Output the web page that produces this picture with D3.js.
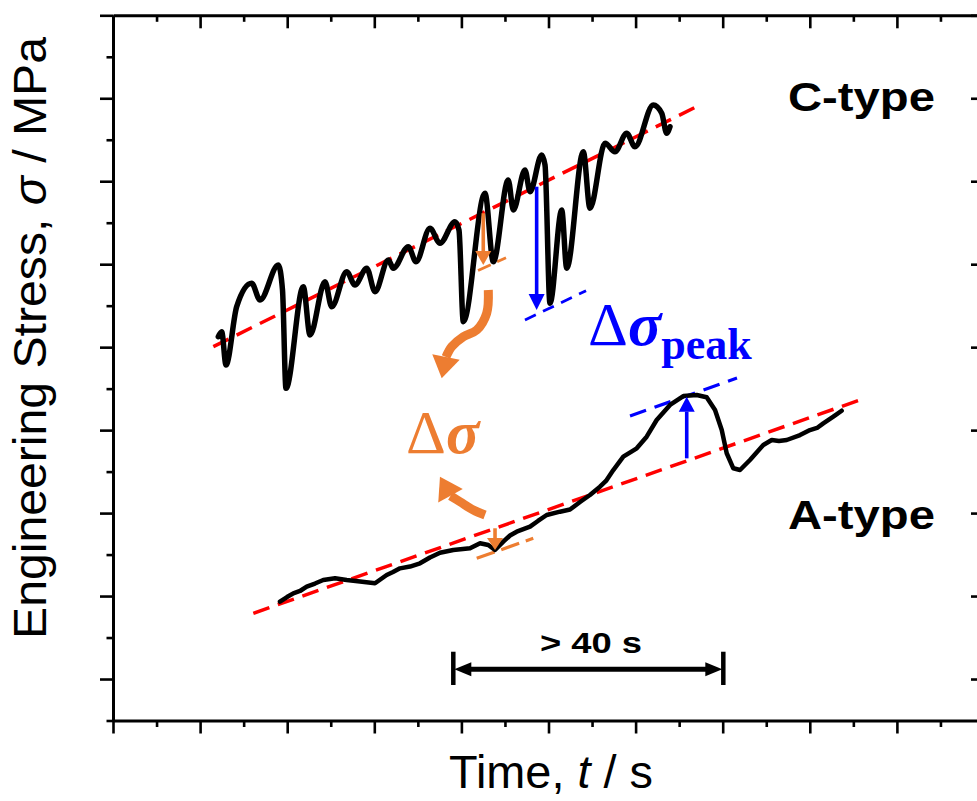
<!DOCTYPE html>
<html>
<head>
<meta charset="utf-8">
<script src="https://cdn.jsdelivr.net/npm/d3@7"></script>
<style>
	body { margin: 0; background: #fff; }
	text { font-family: "Liberation Sans", Arial, sans-serif; }
	.serif { font-family: "Liberation Serif", "Times New Roman", serif; }
</style>
</head>
<body>
<div id="chart"></div>
<script>
// C-type serrations (t / s, sigma / MPa)
var cTime   = [12.09, 12.48, 12.97, 14.20, 15.92, 16.88, 18.98, 19.46, 19.86, 21.85, 22.62, 24.34, 25.11, 26.83, 27.78, 29.13,
	30.08, 31.61, 32.18, 33.90, 34.79, 36.39, 37.54, 39.26, 39.72, 40.22, 42.71, 43.66, 45.38, 45.96, 47.30, 47.88,
	49.22, 49.60, 50.17, 51.52, 52.09, 54.00, 54.76, 56.49, 57.63, 58.98, 59.93, 62.03, 63.00, 63.57, 63.95];
var cStress = [41.26, 41.86, 37.85, 44.88, 47.70, 45.68, 49.90, 46.89, 35.04, 47.29, 41.47, 47.89, 44.88, 49.10, 47.49, 49.51,
	46.69, 50.51, 49.51, 52.11, 50.30, 54.33, 52.52, 55.12, 54.12, 43.07, 58.55, 50.30, 60.15, 56.53, 61.35, 58.74,
	63.16, 61.96, 45.29, 56.53, 49.51, 63.56, 56.74, 64.57, 63.56, 65.78, 64.16, 69.19, 68.19, 65.78, 66.57];

// A-type serrations
var aTime   = [19.17, 19.98, 20.70, 21.47, 22.24, 23.19, 24.14, 25.49, 26.83, 28.36, 30.08, 31.42, 32.15, 32.95, 34.10, 35.25,
	36.39, 37.54, 39.07, 40.99, 42.14, 43.09, 43.86, 44.81, 45.58, 46.35, 47.88, 48.79, 49.79, 51.32, 52.47, 53.62,
	54.76, 55.91, 56.60, 57.44, 58.59, 60.13, 61.27, 62.42, 63.95, 65.48, 67.02, 68.16, 69.12, 69.89, 70.46, 71.22,
	71.99, 73.13, 74.66, 75.63, 76.46, 77.35, 78.88, 80.02, 80.83, 81.55, 82.70, 83.66];
var aStress = [9.32, 9.88, 10.33, 10.61, 11.13, 11.51, 11.93, 12.14, 11.93, 11.75, 11.54, 12.54, 12.90, 13.34, 13.56, 13.95,
	14.65, 15.22, 15.55, 15.75, 16.36, 16.15, 15.55, 16.55, 17.30, 17.76, 18.36, 19.05, 19.77, 20.17, 20.43, 21.34,
	22.18, 23.18, 23.87, 25.19, 26.80, 27.81, 29.21, 31.22, 33.03, 34.11, 34.23, 33.96, 32.43, 30.01, 27.21, 25.40,
	25.19, 26.40, 28.21, 28.81, 28.69, 28.81, 29.41, 30.01, 30.26, 30.82, 31.62, 32.34];

// fitted trend lines (red) and peak lines (blue), [t0, t1] / [s0, s1]
var cFitTime  = [11.52, 67.39], cFitStress  = [40.06, 69.19];
var aFitTime  = [16.11, 85.96], aFitStress  = [7.92, 33.71];
var cPeakTime = [47.30, 54.31], cPeakStress = [43.27, 46.81];
var aPeakTime = [59.36, 71.64], aPeakStress = [31.70, 36.28];
var cDropTime = [41.91, 45.12], cDropStress = [49.24, 50.78];
var aDropTime = [41.76, 48.25], aDropStress = [14.55, 16.96];

// straight arrows: t, from, to
var cPeakArrow = [48.64, 59.34, 44.48];
var aPeakArrow = [65.87, 26.60, 34.03];
var cDropArrow = [42.51, 56.14, 49.90];
var aDropArrow = [43.86, 18.17, 15.55];

// curved arrows towards the delta-sigma label
var downArrowTime   = [43.09, 42.90, 41.76, 40.22, 38.89, 38.23, 37.74];
var downArrowStress = [46.89, 44.08, 42.07, 41.26, 40.06, 38.81, 36.25];
var upArrowTime     = [42.71, 41.37, 39.84, 38.75, 37.54];
var upArrowStress   = [19.77, 20.37, 21.37, 22.08, 24.39];

// time span marker
var spanTime = [39.07, 70.07], spanStress = 1.17, spanBar = [3.29, -0.72];

var xMajorTicks = [0, 10, 20, 30, 40, 50, 60, 70, 80, 90, 100];
var xMinorTicks = [5, 15, 25, 35, 45, 55, 65, 75, 85, 95];
var yMajorTicks = [0, 10, 20, 30, 40, 50, 60, 70, 80];
var yMinorTicks = [-5, 5, 15, 25, 35, 45, 55, 65, 75];

var colors = { red: "#ff0000", blue: "#0000ff", orange: "#ed7d31" };

var width = 977, height = 801;
var x = d3.scaleLinear().domain([0, 100]).range([113, 984]);
var y = d3.scaleLinear().domain([-5, 80]).range([720.5, 15.3]);

var svg = d3.select("#chart").append("svg")
	.attr("width", width)
	.attr("height", height);

// ---- frame and ticks
function frameAxis( axisFn, scale, major, minor, transform, sign ){
	var g = svg.append("g").attr("transform", transform);
	g.call( axisFn(scale).tickValues(major).tickSize(13 * sign).tickSizeOuter(0).tickFormat("") );
	g.append("g").call( axisFn(scale).tickValues(minor).tickSize(6.5 * sign).tickSizeOuter(0).tickFormat("") )
		.select(".domain").remove();
	g.selectAll(".domain").attr("stroke", "#000").attr("stroke-width", 3);
	g.selectAll(".tick line").attr("stroke", "#000").attr("stroke-width", 2.6);
}
frameAxis( d3.axisBottom, x, xMajorTicks, xMinorTicks, "translate(0," + y(-5) + ")", 1 );
frameAxis( d3.axisTop,    x, xMajorTicks, xMinorTicks, "translate(0," + y(80) + ")", -1 );
frameAxis( d3.axisLeft,   y, yMajorTicks, yMinorTicks, "translate(" + x(0) + ",0)", 1 );
frameAxis( d3.axisRight,  y, yMajorTicks, yMinorTicks, "translate(" + x(100) + ",0)", -1 );

// ---- axis titles
var xTitle = svg.append("text").attr("x", 551).attr("y", 788)
	.attr("text-anchor", "middle").attr("font-size", 46)
	.attr("textLength", 204).attr("lengthAdjust", "spacingAndGlyphs");
xTitle.append("tspan").text("Time, ");
xTitle.append("tspan").attr("font-style", "italic").text("t");
xTitle.append("tspan").text(" / s");

var yTitle = svg.append("text").attr("transform", "translate(46,338) rotate(-90)")
	.attr("text-anchor", "middle").attr("font-size", 46)
	.attr("textLength", 602).attr("lengthAdjust", "spacingAndGlyphs");
yTitle.append("tspan").text("Engineering Stress, ");
yTitle.append("tspan").attr("font-style", "italic").text("σ");
yTitle.append("tspan").text(" / MPa");

// ---- helpers
var lineXY = function( ts, ss ){
	return ts.map( function(t, i){ return [x(t), y(ss[i])]; } );
};

function dashed( ts, ss, color, w, dash ){
	svg.append("path")
		.attr("d", d3.line()( lineXY(ts, ss) ))
		.attr("fill", "none")
		.attr("stroke", color)
		.attr("stroke-width", w)
		.attr("stroke-dasharray", dash);
}

// pts in pixels, last one is the tip; body runs through the rest
function arrow( pts, color, w, headLen, headWid, curved ){
	var n = pts.length, tip = pts[n - 1], prev = pts[n - 2];
	var dx = tip[0] - prev[0], dy = tip[1] - prev[1], len = Math.sqrt(dx * dx + dy * dy);
	var ux = dx / len, uy = dy / len;
	var base = [tip[0] - ux * headLen, tip[1] - uy * headLen];
	var body = curved ? pts.slice(0, n - 1) : [pts[0], base];
	if ( w > 0 )
		svg.append("path")
			.attr("d", d3.line().curve( curved ? d3.curveCatmullRom.alpha(0.5) : d3.curveLinear )( body ))
			.attr("fill", "none")
			.attr("stroke", color)
			.attr("stroke-width", w);
	var hb = curved ? prev : base;
	svg.append("path")
		.attr("d", "M" + [tip[0], tip[1]] +
			"L" + [hb[0] - uy * headWid / 2, hb[1] + ux * headWid / 2] +
			"L" + [hb[0] + uy * headWid / 2, hb[1] - ux * headWid / 2] + "Z")
		.attr("fill", color);
}

// ---- trend lines
dashed( cFitTime, cFitStress, colors.red, 3.5, "17,9" );
dashed( aFitTime, aFitStress, colors.red, 3.5, "17,9" );
dashed( cPeakTime, cPeakStress, colors.blue, 2.8, "12,8" );
dashed( aPeakTime, aPeakStress, colors.blue, 3.2, "17,9" );
dashed( cDropTime, cDropStress, colors.orange, 2.8, "14,7" );
dashed( aDropTime, aDropStress, colors.orange, 3.2, "19,7" );

// ---- serration curves
svg.append("path")
	.attr("d", d3.line().curve(d3.curveMonotoneX)( lineXY(cTime, cStress) ))
	.attr("fill", "none").attr("stroke", "#000").attr("stroke-width", 5.5)
	.attr("stroke-linejoin", "round").attr("stroke-linecap", "round");

svg.append("path")
	.attr("d", d3.line()( lineXY(aTime, aStress) ))
	.attr("fill", "none").attr("stroke", "#000").attr("stroke-width", 4.5)
	.attr("stroke-linejoin", "round").attr("stroke-linecap", "round");

// ---- arrows
[[cPeakArrow, colors.blue, 16], [aPeakArrow, colors.blue, 15], [cDropArrow, colors.orange, 14], [aDropArrow, colors.orange, 12]]
	.forEach( function(a){
		var d = a[0];
		arrow( [[x(d[0]), y(d[1])], [x(d[0]), y(d[2])]], a[1], 3.6, a[2], 16, false );
	});
arrow( lineXY(downArrowTime, downArrowStress), colors.orange, 9, 22, 28, true );
arrow( lineXY(upArrowTime, upArrowStress), colors.orange, 9, 23, 28, true );

// ---- time span
var sx0 = x(spanTime[0]), sx1 = x(spanTime[1]), sy = y(spanStress);
svg.append("line").attr("x1", sx0 + 16).attr("x2", sx1 - 16).attr("y1", sy).attr("y2", sy)
	.attr("stroke", "#000").attr("stroke-width", 5);
arrow( [[sx0 + 20, sy], [sx0 + 1, sy]], "#000", 0, 17, 14, false );
arrow( [[sx1 - 20, sy], [sx1 - 1, sy]], "#000", 0, 17, 14, false );
[sx0, sx1].forEach( function(sx){
	svg.append("line").attr("x1", sx).attr("x2", sx).attr("y1", y(spanBar[0])).attr("y2", y(spanBar[1]))
		.attr("stroke", "#000").attr("stroke-width", 4.5);
});
svg.append("text").attr("x", 591).attr("y", 653).attr("text-anchor", "middle")
	.attr("font-size", 30).attr("font-weight", "bold")
	.attr("textLength", 102).attr("lengthAdjust", "spacingAndGlyphs")
	.text("> 40 s");

// ---- labels
svg.append("text").attr("x", 788).attr("y", 111).attr("font-size", 40).attr("font-weight", "bold")
	.attr("textLength", 147).attr("lengthAdjust", "spacingAndGlyphs").text("C-type");
svg.append("text").attr("x", 788).attr("y", 529).attr("font-size", 40).attr("font-weight", "bold")
	.attr("textLength", 147).attr("lengthAdjust", "spacingAndGlyphs").text("A-type");

var dOrange = svg.append("text").attr("class", "serif").attr("x", 406).attr("y", 453)
	.attr("font-size", 62).attr("fill", colors.orange);
dOrange.append("tspan").text("Δ");
dOrange.append("tspan").attr("font-weight", "bold").attr("font-style", "italic").text("σ");

var dBlue = svg.append("text").attr("class", "serif").attr("x", 588).attr("y", 345)
	.attr("font-size", 62).attr("fill", colors.blue);
dBlue.append("tspan").text("Δ");
dBlue.append("tspan").attr("font-weight", "bold").attr("font-style", "italic").text("σ");
dBlue.append("tspan").attr("font-weight", "bold").attr("font-size", 44).attr("dy", 14).text("peak");
</script>
</body>
</html>
